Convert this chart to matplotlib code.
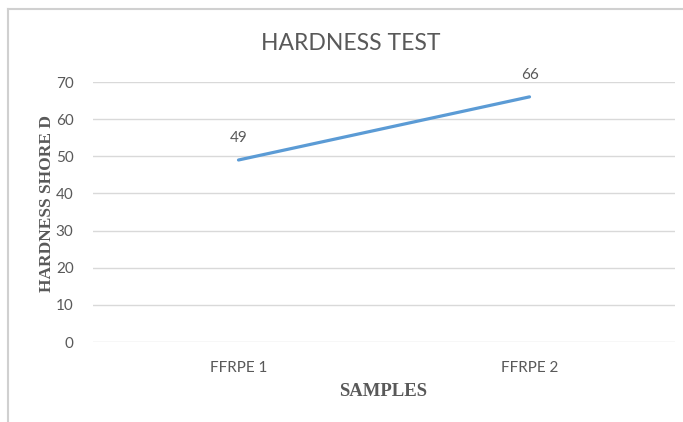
import matplotlib
matplotlib.use('Agg')
import matplotlib.pyplot as plt
from matplotlib.lines import Line2D

samples = ['FFRPE 1', 'FFRPE 2']  # categories
hardness = [49, 66]  # shore D values
yticks = [0, 10, 20, 30, 40, 50, 60, 70]

grey = '#595959'
fig = plt.figure(figsize=(6.83, 4.22), dpi=100)
ax = fig.add_axes([93/683, 1-342/422, (675-93)/683, (342-82)/422])

x = list(range(len(samples)))
ax.plot(x, hardness, color='#5B9BD5', lw=2.3, solid_capstyle='round', zorder=3)
for xi, v in zip(x, hardness):
    ax.annotate(str(v), (xi, v), xytext=(0, 11), textcoords='offset points',
                ha='center', va='bottom', fontsize=11, color=grey, family='Lato')

ax.set_xlim(-0.5, len(samples) - 0.5)
ax.set_ylim(0, 70)
ax.set_yticks(yticks)
ax.set_xticks(x)
ax.set_xticklabels(samples)
ax.grid(axis='y', color='#D9D9D9', lw=1)
ax.set_axisbelow(True)
for s in ax.spines.values():
    s.set_visible(False)
ax.tick_params(length=0, colors=grey, labelsize=11, pad=14)
for lbl in ax.get_xticklabels() + ax.get_yticklabels():
    lbl.set_family('Lato')

fig.text(351/683, 1-44/422, 'HARDNESS TEST', ha='center', va='center',
         fontsize=16.5, color=grey, family='Lato')
fig.text(47/683, 1-204/422, 'HARDNESS SHORE D', rotation=90, ha='center', va='center',
         fontsize=12.5, fontweight='bold', color=grey, family='Liberation Serif')
fig.text(383/683, 1-391/422, 'SAMPLES', ha='center', va='center',
         fontsize=13.5, fontweight='bold', color=grey, family='Liberation Serif')

# chart border (top and left edges visible)
fig.add_artist(Line2D([8/683, 8/683], [0, 1-9/422], transform=fig.transFigure, color='#D0D0D0', lw=1.5))
fig.add_artist(Line2D([8/683, 1], [1-9/422, 1-9/422], transform=fig.transFigure, color='#D0D0D0', lw=1.5))

fig.savefig('out.png', dpi=100)
